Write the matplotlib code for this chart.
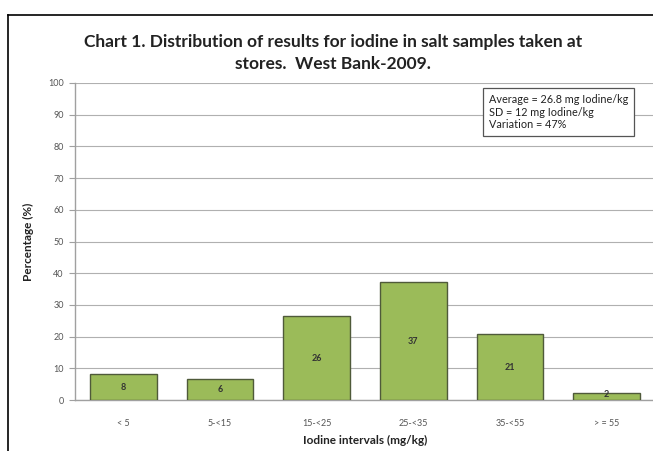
import matplotlib.pyplot as plt
from matplotlib.lines import Line2D

# data
categories = ['< 5', '5-<15', '15-<25', '25-<35', '35-<55', '> = 55']
percent = [8.2, 6.6, 26.4, 37.2, 20.8, 2.2]
bar_labels = ['8', '6', '26', '37', '21', '2']
yticks = [0, 10, 20, 30, 40, 50, 60, 70, 80, 90, 100]

stats_text = 'Average = 26.8 mg Iodine/kg\nSD = 12 mg Iodine/kg\nVariation = 47%'

plt.rcParams['font.family'] = ['Lato', 'DejaVu Sans']

fig = plt.figure(figsize=(6.53, 4.51), dpi=100)
W, H = 653.0, 451.0

# outer frame (only left and top visible in the crop)
fig.add_artist(Line2D([8/W, 8/W], [0, 1 - 15/H], color='black', lw=1.2))
fig.add_artist(Line2D([8/W, 1], [1 - 15/H, 1 - 15/H], color='black', lw=1.2))

ax = fig.add_axes([75/W, 1 - 400/H, 580/W, 317/H])

x = range(len(categories))
bars = ax.bar(x, percent, width=0.69, color='#9bbb59', edgecolor='#4f5a3a', linewidth=1.0, zorder=3)

for b, lab in zip(bars, bar_labels):
    ax.text(b.get_x() + b.get_width()/2, max(b.get_height()/2, 1.8), lab,
            ha='center', va='center', fontsize=6.5, fontweight='bold', color='#333333', zorder=4)

ax.set_xlim(-0.5, len(categories) - 0.5)
ax.set_ylim(0, 100)
ax.set_yticks(yticks)
ax.set_xticks(list(x))
ax.set_xticklabels(categories)
ax.grid(axis='y', color='#b0b0b0', lw=0.8, zorder=0)
ax.tick_params(axis='y', labelsize=6.5, labelcolor='#555555', length=4, color='#a0a0a0', pad=4)
ax.tick_params(axis='x', labelsize=6.5, labelcolor='#555555', length=0, pad=14)

for s in ['top', 'right']:
    ax.spines[s].set_visible(False)
for s in ['left', 'bottom']:
    ax.spines[s].set_color('#a0a0a0')
    ax.spines[s].set_linewidth(1.0)

ax.set_ylabel('Percentage (%)', fontsize=8.5, fontweight='bold', color='#222222', labelpad=10)
ax.set_xlabel('Iodine intervals (mg/kg)', fontsize=8.5, fontweight='bold', color='#222222', labelpad=5)

fig.text(333/W, 1 - 42/H, 'Chart 1. Distribution of results for iodine in salt samples taken at',
         ha='center', va='center', fontsize=12.5, fontweight='bold', color='#222222')
fig.text(333/W, 1 - 64/H, 'stores.  West Bank-2009.',
         ha='center', va='center', fontsize=12.5, fontweight='bold', color='#222222')

fig.text(489/W, 1 - 112/H, stats_text, ha='left', va='center', fontsize=7.8,
         color='#222222', linespacing=1.15,
         bbox=dict(boxstyle='square,pad=0.55', facecolor='white', edgecolor='#555555', lw=0.9))

fig.savefig('out.png', dpi=100)
